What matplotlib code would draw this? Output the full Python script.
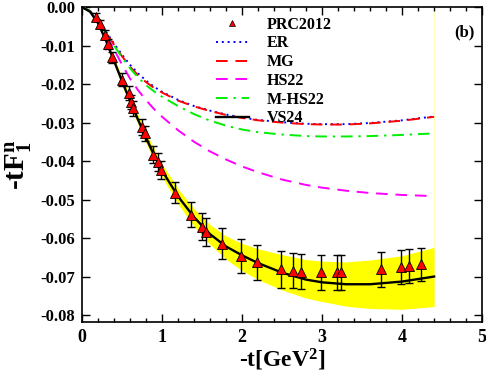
import numpy as np
import matplotlib
matplotlib.use("Agg")
import matplotlib.pyplot as plt

plt.rcParams['font.family'] = ['Liberation Serif', 'DejaVu Serif']
plt.rcParams['font.weight'] = 'bold'
plt.rcParams['mathtext.fontset'] = 'custom'
plt.rcParams['mathtext.rm'] = 'Liberation Serif:bold'
plt.rcParams['mathtext.it'] = 'Liberation Serif:bold'
plt.rcParams['mathtext.bf'] = 'Liberation Serif:bold'

# PRC2012 data points
t_data = [0.17, 0.22, 0.28, 0.32, 0.37, 0.50, 0.58, 0.61, 0.64, 0.75, 0.78, 0.89,
          0.95, 0.98, 1.16, 1.36, 1.50, 1.55, 1.75, 1.99, 2.19, 2.49, 2.63, 2.74,
          2.99, 3.19, 3.24, 3.74, 3.99, 4.09, 4.23]
f_data = [-0.0025, -0.0044, -0.0072, -0.0095, -0.0130, -0.0188, -0.0224, -0.0246,
          -0.0263, -0.0311, -0.0328, -0.0383, -0.0403, -0.0423, -0.0482, -0.0539,
          -0.0571, -0.0584, -0.0615, -0.0647, -0.0663, -0.0681, -0.0685, -0.0687,
          -0.0689, -0.0689, -0.0689, -0.0681, -0.0675, -0.0673, -0.0668]
f_err = [0.0009, 0.0010, 0.0012, 0.0013, 0.0014, 0.0018, 0.0018, 0.0019, 0.0020,
         0.0020, 0.0020, 0.0022, 0.0024, 0.0024, 0.0028, 0.0033, 0.0035, 0.0036,
         0.0040, 0.0044, 0.0046, 0.0048, 0.0046, 0.0046, 0.0046, 0.0046, 0.0046,
         0.0046, 0.0045, 0.0045, 0.0043]

# model curves
t_grid = [0.0, 0.1, 0.2, 0.3, 0.4, 0.5, 0.6, 0.7, 0.8, 0.9, 1.0, 1.2, 1.4, 1.6, 1.8,
          2.0, 2.2, 2.5, 2.8, 3.0, 3.3, 3.6, 4.0, 4.4]
vs24 = [0.0, -0.0012, -0.0042, -0.0088, -0.0140, -0.0193, -0.0244, -0.0293, -0.0340,
        -0.0385, -0.0425, -0.0492, -0.0546, -0.0590, -0.0622, -0.0645, -0.0665,
        -0.0690, -0.0708, -0.0715, -0.0720, -0.0720, -0.0713, -0.0700]
vs24_up = [0.0, -0.0011, -0.0038, -0.0082, -0.0131, -0.0182, -0.0232, -0.0280, -0.0326,
           -0.0368, -0.0408, -0.0472, -0.0524, -0.0565, -0.0595, -0.0614, -0.0628,
           -0.0643, -0.0656, -0.0660, -0.0662, -0.0657, -0.0646, -0.0624]
vs24_lo = [0.0, -0.0013, -0.0046, -0.0094, -0.0150, -0.0205, -0.0257, -0.0306, -0.0354,
           -0.0400, -0.0442, -0.0512, -0.0570, -0.0617, -0.0655, -0.0685, -0.0708,
           -0.0735, -0.0756, -0.0765, -0.0777, -0.0783, -0.0785, -0.0778]
er = [0.0, -0.0010, -0.0033, -0.0064, -0.0095, -0.0124, -0.0150, -0.0172, -0.0191,
      -0.0207, -0.0220, -0.0241, -0.0257, -0.0269, -0.0279, -0.0287, -0.0293,
      -0.0299, -0.0303, -0.0304, -0.0304, -0.0301, -0.0294, -0.0284]
mg = [0.0, -0.0010, -0.0034, -0.0066, -0.0098, -0.0128, -0.0155, -0.0177, -0.0195,
      -0.0210, -0.0222, -0.0243, -0.0258, -0.0270, -0.0280, -0.0288, -0.0294,
      -0.0300, -0.0304, -0.0305, -0.0305, -0.0302, -0.0295, -0.0285]
hs22 = [0.0, -0.0010, -0.0036, -0.0072, -0.0110, -0.0150, -0.0186, -0.0216, -0.0242,
        -0.0265, -0.0285, -0.0320, -0.0350, -0.0375, -0.0396, -0.0414, -0.0429,
        -0.0448, -0.0462, -0.0469, -0.0477, -0.0483, -0.0488, -0.0491]
mhs22 = [0.0, -0.0010, -0.0035, -0.0067, -0.0100, -0.0131, -0.0159, -0.0183, -0.0203,
         -0.0219, -0.0233, -0.0257, -0.0278, -0.0295, -0.0308, -0.0318, -0.0325,
         -0.0331, -0.0335, -0.0336, -0.0336, -0.0335, -0.0332, -0.0328]

fig = plt.figure(figsize=(4.86, 3.77), dpi=100)
ax = fig.add_axes([0.169, 0.146, 0.823, 0.835])

ax.fill_between(t_grid, vs24_lo, vs24_up, color='#ffff00', lw=0, zorder=1)
ax.plot([t_grid[-1], t_grid[-1]], [0.0, vs24_up[-1]], color='#ffffc0', lw=0.8, zorder=1)

ax.plot(t_grid, er, color='blue', ls=(0, (1, 2)), lw=1.4, label='ER', zorder=3)
ax.plot(t_grid, mg, color='red', ls=(0, (6, 4)), lw=1.4, label='MG', zorder=3)
ax.plot(t_grid, hs22, color='magenta', ls=(0, (6, 4)), lw=1.4, label='HS22', zorder=3)
ax.plot(t_grid, mhs22, color='#00ee00', ls=(0, (6, 3, 1.2, 3)), lw=1.4, label='M-HS22', zorder=3)
ax.plot(t_grid, vs24, color='black', lw=1.7, label='VS24', zorder=4)

ax.errorbar(t_data, f_data, yerr=f_err, fmt='none', ecolor='black', elinewidth=1.0,
            capsize=3, capthick=1.0, zorder=5)
ax.plot(t_data, f_data, ls='none', marker='^', ms=6.5, mfc='red', mec='black', mew=0.6,
        zorder=6)
prc, = ax.plot([], [], ls='none', marker='^', ms=4.5, mfc='red', mec='black', mew=0.5,
               label='PRC2012')

handles, labels = ax.get_legend_handles_labels()
order = [labels.index(n) for n in ['PRC2012', 'ER', 'MG', 'HS22', 'M-HS22', 'VS24']]
ax.legend([handles[i] for i in order], [labels[i] for i in order],
          loc='upper left', bbox_to_anchor=(0.31, 1.0), frameon=False,
          prop={'family': 'Liberation Serif', 'weight': 'bold', 'size': 11.5},
          handlelength=2.1, labelspacing=0.17, handletextpad=1.1, borderaxespad=0.2)

ax.text(0.957, 0.92, '(b)', transform=ax.transAxes, ha='center', va='center',
        fontsize=12, fontweight='bold')

ax.set_xlim(0, 5)
ax.set_ylim(-0.0818, 0)
ax.set_xticks([0, 1, 2, 3, 4, 5])
ax.set_xticks(np.arange(0, 5.01, 0.2), minor=True)
ax.set_yticks(np.arange(-0.08, 0.001, 0.01))
ax.set_yticklabels(['%.2f' % v if abs(v) > 1e-9 else '0.00' for v in np.arange(-0.08, 0.001, 0.01)])
ax.set_xticklabels(['0', '1', '2', '3', '4', '5'])
ax.tick_params(which='both', direction='in', top=True, right=True, labelsize=12, width=1.0)
ax.tick_params(which='major', length=6, pad=5)
ax.tick_params(axis='x', labelsize=13)
ax.tick_params(which='minor', length=3)
for sp in ax.spines.values():
    sp.set_linewidth(1.2)

ax.set_xlabel('-t[GeV$^2$]', fontsize=17, fontweight='bold', labelpad=1)
ax.set_ylabel('-tF$_1^n$', fontsize=21, fontweight='bold', labelpad=4)

fig.savefig('out.png', dpi=100)
